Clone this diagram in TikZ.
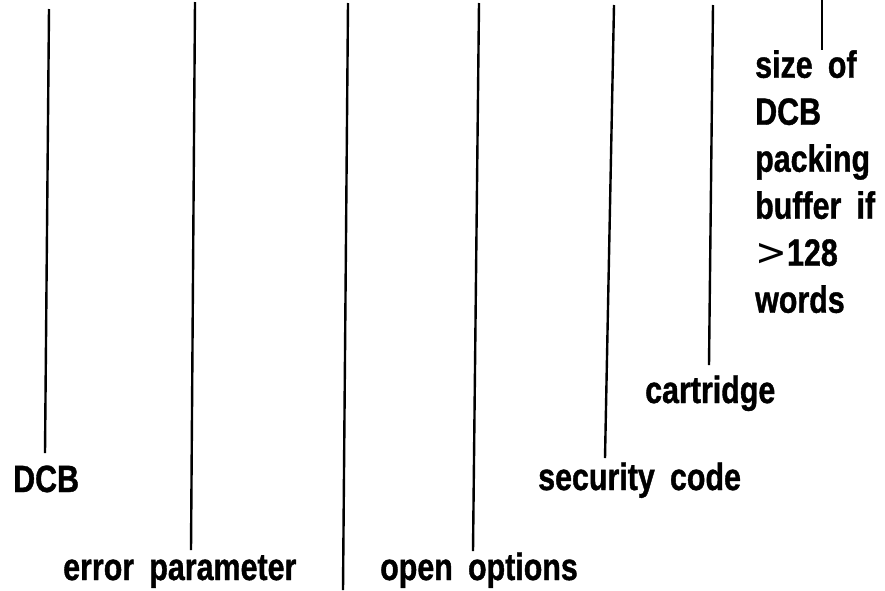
\documentclass[tikz,border=0pt]{standalone}
\usepackage{fontspec}
\setmainfont{Liberation Sans}[FakeStretch=0.8,WordSpace=1.8,FakeBold=1]
\newfontfamily\gtfont{DejaVu Sans}
\usetikzlibrary{calc}

\begin{document}
\begin{tikzpicture}[x=1pt,y=1pt,
  tag/.style={anchor=base west,inner sep=0pt,
    font=\bfseries\fontsize{38}{47}\selectfont},
  block/.style={tag,anchor=north west,align=left},
  leader/.style={draw=black,line width=2.4pt}
]
\useasboundingbox (0,0) rectangle (885,-590);
\coordinate (dcb-top) at (49,-9);
\coordinate (err-top) at (195,-2);
\coordinate (mid-top) at (348,-3);
\coordinate (mid-end) at (343,-590);
\coordinate (open-top) at (479,-3);
\coordinate (sec-top) at (614,-5);
\coordinate (cart-top) at (713,-5);
\coordinate (size-top) at (822,0);
\node[tag] (dcb) at (13,-492) {DCB};
\node[tag] (err) at (63,-580) {error parameter};
\node[tag] (open) at (380,-580) {open options};
\node[tag] (sec) at (538,-490) {security code};
\node[tag] (cart) at (645,-403) {cartridge};
\node[block] (size) at (755,-50) {size of\\DCB\\packing\\buffer if\\{\gtfont\mdseries >}128\\words};
\draw[leader] (dcb-top) -- ($(dcb.base west)+(32,39)$);
\draw[leader] (err-top) -- ($(err.base west)+(128,30)$);
\draw[leader] (mid-top) -- (mid-end);
\draw[leader] (open-top) -- ($(open.base west)+(93,29)$);
\draw[leader] (sec-top) -- ($(sec.base west)+(67,32)$);
\draw[leader] (cart-top) -- ($(cart.base west)+(64,38)$);
\draw[leader] (size-top) -- ($(size.north west)+(67,0)$);
\end{tikzpicture}
\end{document}
